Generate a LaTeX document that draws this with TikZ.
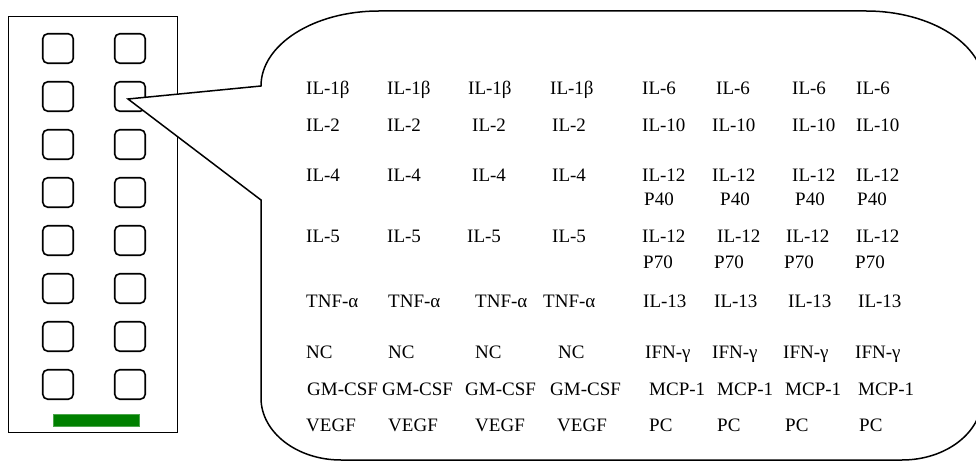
\documentclass[tikz,border=0pt]{standalone}
\usepackage{fontspec}
\setmainfont{Liberation Serif}
\definecolor{barGreen}{RGB}{0,128,0}
\begin{document}
\begin{tikzpicture}[x=1pt,y=-1pt,
  panel/.style={draw=black,line width=1pt,inner sep=0pt,minimum width=169pt,minimum height=415pt},
  well/.style={draw=black,line width=1.6pt,rounded corners=5pt,inner sep=0pt,minimum width=30.5pt,minimum height=29.5pt},
  bar/.style={fill=barGreen,draw=barGreen!70!white,line width=0.6pt,inner sep=0pt,minimum width=86pt,minimum height=12pt},
  bubblefill/.style={fill=white},
  bubble/.style={draw=black,line width=1.5pt,line join=miter},
  lbl/.style={anchor=base west,inner sep=0pt,font=\fontsize{19}{23}\selectfont}]
\useasboundingbox (0,0) rectangle (976,462);
% plate
\node[panel] (plate) at (92.5,224.5) {};
\foreach \r in {0,...,7}{
  \node[well] (w\r a) at (58,{48.5+48*\r}) {};
  \node[well] (w\r b) at (130,{48.5+48*\r}) {};
}
\node[bar] (greenbar) at (96,420) {};
% callout
\coordinate (tip) at (128,99);
\coordinate (jU) at (261,86);
\coordinate (jL) at (261,200);
\begin{scope}
\clip (0,0) rectangle (976,462);
\path[bubblefill] (tip) -- (jU)
  arc[start angle=180,end angle=270,x radius=118,y radius=75]
  -- (866,11)
  arc[start angle=270,end angle=360,x radius=118,y radius=75]
  -- (982,398)
  arc[start angle=0,end angle=90,x radius=80,y radius=62]
  -- (341,460)
  arc[start angle=90,end angle=180,x radius=80,y radius=62]
  -- (jL) -- cycle;
\path[bubble] (982,398)
  arc[start angle=0,end angle=90,x radius=80,y radius=62]
  -- (341,460)
  arc[start angle=90,end angle=180,x radius=80,y radius=62]
  -- (jL) -- (tip) -- (jU)
  arc[start angle=180,end angle=270,x radius=118,y radius=75]
  -- (866,11)
  arc[start angle=270,end angle=360,x radius=118,y radius=75];
\end{scope}
% labels
\foreach \t/\x [count=\c] in {IL-1β/306,IL-1β/387,IL-1β/468,IL-1β/550,IL-6/642,IL-6/716,IL-6/792,IL-6/856}
  \node[lbl] (ra\c) at (\x,95) {\t};
\foreach \t/\x [count=\c] in {IL-2/306,IL-2/387,IL-2/472,IL-2/552,IL-10/642,IL-10/712,IL-10/792,IL-10/856}
  \node[lbl] (rb\c) at (\x,132) {\t};
\foreach \t/\x [count=\c] in {IL-4/306,IL-4/387,IL-4/472,IL-4/552,IL-12/642,IL-12/712,IL-12/792,IL-12/856}
  \node[lbl] (rc\c) at (\x,182) {\t};
\foreach \x [count=\c] in {644,720,795,857}
  \node[lbl] (rcs\c) at (\x,206) {P40};
\foreach \t/\x [count=\c] in {IL-5/306,IL-5/387,IL-5/467,IL-5/552,IL-12/642,IL-12/717,IL-12/786,IL-12/856}
  \node[lbl] (rd\c) at (\x,243) {\t};
\foreach \x [count=\c] in {643,714,784,855}
  \node[lbl] (rds\c) at (\x,268) {P70};
\foreach \t/\x [count=\c] in {TNF-α/306,TNF-α/388,TNF-α/475,TNF-α/543,IL-13/643,IL-13/714,IL-13/788,IL-13/858}
  \node[lbl] (re\c) at (\x,307) {\t};
\foreach \t/\x [count=\c] in {NC/306,NC/388,NC/475,NC/558,IFN-γ/645,IFN-γ/712,IFN-γ/783,IFN-γ/855}
  \node[lbl] (rf\c) at (\x,358) {\t};
\foreach \t/\x [count=\c] in {GM-CSF/307,GM-CSF/382,GM-CSF/465,GM-CSF/550,MCP-1/649,MCP-1/717,MCP-1/785,MCP-1/858}
  \node[lbl] (rg\c) at (\x,395) {\t};
\foreach \t/\x [count=\c] in {VEGF/306,VEGF/388,VEGF/475,VEGF/557,PC/649,PC/717,PC/785,PC/859}
  \node[lbl] (rh\c) at (\x,431) {\t};
\end{tikzpicture}
\end{document}
